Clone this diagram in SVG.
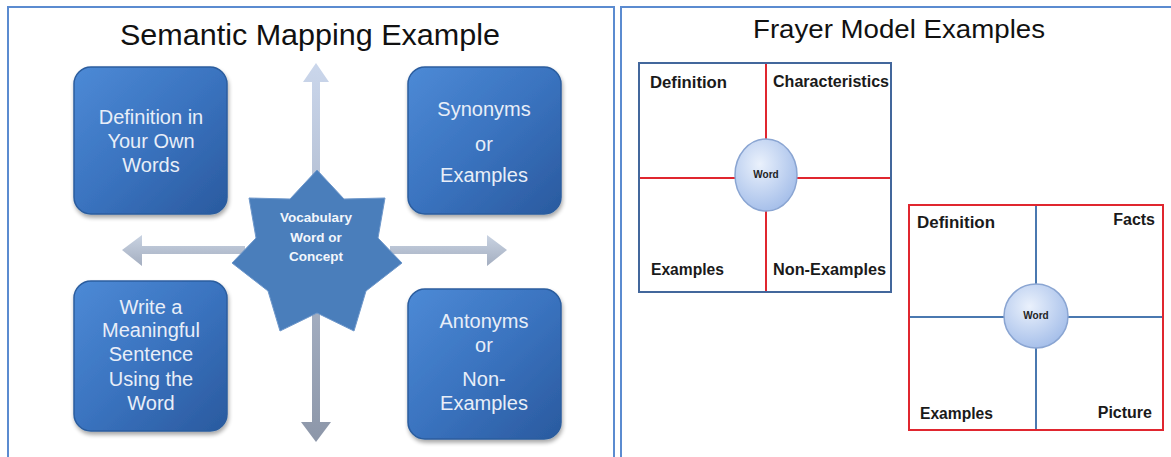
<svg xmlns="http://www.w3.org/2000/svg" width="1171" height="457" viewBox="0 0 1171 457">
<style>
.title{font-family:"Liberation Sans",Arial,sans-serif;fill:#111;}
.box{fill:url(#boxg);stroke:#2b5d9e;stroke-width:1.5;filter:url(#sh);}
.bt{font-family:"Liberation Sans",Arial,sans-serif;font-size:20px;fill:#e8eef8;text-anchor:middle;}
.st{font-family:"Liberation Sans",Arial,sans-serif;font-size:13.5px;font-weight:bold;fill:#f2f6fb;text-anchor:middle;}
.fl{font-family:"Liberation Sans",Arial,sans-serif;font-size:16px;font-weight:bold;fill:#1a1a1a;}
.wd{font-family:"Liberation Sans",Arial,sans-serif;font-size:10px;font-weight:bold;fill:#222;text-anchor:middle;}
.red{stroke:#e0262f;stroke-width:2;fill:none;}
.blu{stroke:#4a78b0;stroke-width:2;fill:none;}
</style>
<defs>
<linearGradient id="boxg" x1="0" y1="0" x2="1" y2="1">
<stop offset="0" stop-color="#4d8ad6"/>
<stop offset="0.5" stop-color="#3a73bf"/>
<stop offset="1" stop-color="#2a5a9f"/>
</linearGradient>
<linearGradient id="arrv" gradientUnits="userSpaceOnUse" x1="0" y1="60" x2="0" y2="445">
<stop offset="0" stop-color="#cbd7ec"/>
<stop offset="1" stop-color="#8c96a8"/>
</linearGradient>
<linearGradient id="arrh" x1="0" y1="0" x2="0" y2="1">
<stop offset="0" stop-color="#c9d3e2"/>
<stop offset="1" stop-color="#a4aec0"/>
</linearGradient>
<radialGradient id="circ" cx="0.4" cy="0.35" r="0.7">
<stop offset="0" stop-color="#eaf1fc"/>
<stop offset="1" stop-color="#a3bde9"/>
</radialGradient>
<filter id="sh" x="-10%" y="-10%" width="125%" height="125%">
<feGaussianBlur in="SourceAlpha" stdDeviation="2"/>
<feOffset dx="1" dy="3" result="b"/>
<feComponentTransfer><feFuncA type="linear" slope="0.35"/></feComponentTransfer>
<feMerge><feMergeNode/><feMergeNode in="SourceGraphic"/></feMerge>
</filter>
</defs>
<rect width="1171" height="457" fill="#ffffff"/>
<g id="panels">
<rect x="8" y="7" width="606" height="460" fill="none" stroke="#5b8bd0" stroke-width="2"/>
<rect x="621" y="7" width="560" height="460" fill="none" stroke="#5b8bd0" stroke-width="2"/>
</g>
<text class="title" x="310" y="45" font-size="30" text-anchor="middle" textLength="380" lengthAdjust="spacingAndGlyphs">Semantic Mapping Example</text>
<text class="title" x="899" y="38" font-size="26" text-anchor="middle" textLength="292" lengthAdjust="spacingAndGlyphs">Frayer Model Examples</text>
<g id="connectors">
<path d="M312,82 L303,82 L316,63 L329,82 L320,82 L320,180 L312,180 Z" fill="url(#arrv)"/>
<path d="M312,300 L320,300 L320,422 L331,422 L316,442 L301,422 L312,422 Z" fill="url(#arrv)"/>
<path d="M245,246 L142,246 L142,235 L122,250 L142,266 L142,254 L245,254 Z" fill="url(#arrh)"/>
<path d="M390,246 L487,246 L487,235 L507,250 L487,266 L487,254 L390,254 Z" fill="url(#arrh)"/>
</g>
<g id="star">
<polygon points="317,170 344,199 385,198 378,238 402,263 366,291 354,331 317,313 280,331 268,291 232,263 256,238 249,198 290,199" fill="#4a7ebb" stroke="#6f98cb" stroke-width="1"/>
<text class="st" x="316" y="222">Vocabulary</text>
<text class="st" x="316" y="242">Word or</text>
<text class="st" x="316" y="261">Concept</text>
</g>
<g id="box-definition">
<rect class="box" x="74" y="67" width="153" height="147" rx="17"/>
<text class="bt" x="151" y="124">Definition in</text>
<text class="bt" x="151" y="148">Your Own</text>
<text class="bt" x="151" y="172">Words</text>
</g>
<g id="box-synonyms">
<rect class="box" x="408" y="67" width="153" height="147" rx="17"/>
<text class="bt" x="484" y="116">Synonyms</text>
<text class="bt" x="484" y="151">or</text>
<text class="bt" x="484" y="182">Examples</text>
</g>
<g id="box-sentence">
<rect class="box" x="74" y="281" width="153" height="150" rx="17"/>
<text class="bt" x="151" y="314">Write a</text>
<text class="bt" x="151" y="337">Meaningful</text>
<text class="bt" x="151" y="361">Sentence</text>
<text class="bt" x="151" y="386">Using the</text>
<text class="bt" x="151" y="410">Word</text>
</g>
<g id="box-antonyms">
<rect class="box" x="408" y="289" width="153" height="150" rx="17"/>
<text class="bt" x="484" y="328">Antonyms</text>
<text class="bt" x="484" y="352">or</text>
<text class="bt" x="484" y="386">Non-</text>
<text class="bt" x="484" y="410">Examples</text>
</g>
<g id="frayer1">
<line class="red" x1="766" y1="63" x2="766" y2="292"/>
<line class="red" x1="639" y1="178" x2="891" y2="178"/>
<rect x="639" y="63" width="252" height="229" fill="none" stroke="#43679c" stroke-width="2"/>
<ellipse cx="766" cy="175" rx="31" ry="36" fill="url(#circ)" stroke="#8aa5d2" stroke-width="1.5"/>
<text class="wd" x="766" y="178">Word</text>
<text class="fl" x="650" y="88" textLength="77" lengthAdjust="spacingAndGlyphs">Definition</text>
<text class="fl" x="773" y="87" textLength="116" lengthAdjust="spacingAndGlyphs">Characteristics</text>
<text class="fl" x="651" y="275" textLength="73" lengthAdjust="spacingAndGlyphs">Examples</text>
<text class="fl" x="773" y="275" textLength="113" lengthAdjust="spacingAndGlyphs">Non-Examples</text>
</g>
<g id="frayer2">
<line class="blu" x1="1036" y1="205" x2="1036" y2="430"/>
<line class="blu" x1="909" y1="317" x2="1163" y2="317"/>
<rect x="909" y="205" width="254" height="225" fill="none" stroke="#e0262f" stroke-width="2"/>
<circle cx="1036" cy="316" r="32" fill="url(#circ)" stroke="#8aa5d2" stroke-width="1.5"/>
<text class="wd" x="1036" y="319">Word</text>
<text class="fl" x="917" y="228" textLength="78" lengthAdjust="spacingAndGlyphs">Definition</text>
<text class="fl" x="1155" y="225" text-anchor="end">Facts</text>
<text class="fl" x="920" y="419" textLength="73" lengthAdjust="spacingAndGlyphs">Examples</text>
<text class="fl" x="1152" y="418" text-anchor="end">Picture</text>
</g>
</svg>
